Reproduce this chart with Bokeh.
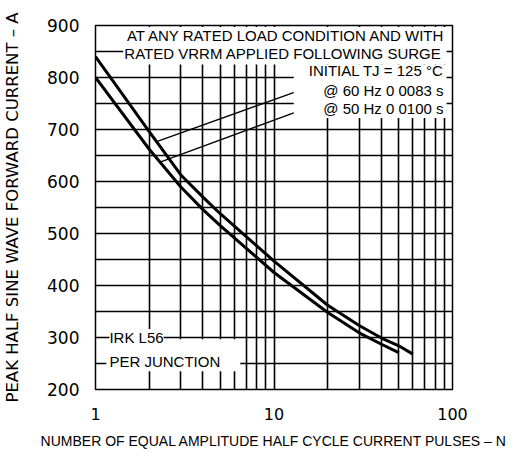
import numpy as np
from bokeh.plotting import figure
from bokeh.models import (FixedTicker, PrintfTickFormatter, BoxAnnotation,
                          Label, Range1d)
from bokeh.embed import file_html
from bokeh.resources import INLINE

# Surge current curves (peak half-sine forward current vs. number of pulses)
pulses_60hz = [1, 2, 3, 4, 5, 10, 20, 30, 40, 50, 60]
current_60hz = [840, 696, 613, 570, 538, 447, 362, 323, 299, 284, 268]

pulses_50hz = [1, 2, 3, 4, 5, 10, 20, 30, 40, 50]
current_50hz = [800, 662, 590, 546, 515, 425, 348, 309, 287, 271]

# Axis ticks and grid
x_major = [1, 10, 100]
x_minor = [2, 3, 4, 5, 6, 7, 8, 9, 20, 30, 40, 50, 60, 70, 80, 90]
y_major = [200, 300, 400, 500, 600, 700, 800, 900]
y_minor = [250, 350, 450, 550, 650, 750, 850]

TEXT_FONT = "Liberation Sans"
NUM_FONT = "DejaVu Sans"

p = figure(width=518, height=460, x_axis_type="log",
           x_range=Range1d(1, 100), y_range=Range1d(200, 900),
           output_backend="svg", toolbar_location=None,
           min_border_left=92, min_border_right=66,
           min_border_top=25, min_border_bottom=71)
p.background_fill_color = "white"
p.border_fill_color = "white"
p.outline_line_color = "black"
p.outline_line_width = 1.5

p.xaxis.ticker = FixedTicker(ticks=x_major, minor_ticks=x_minor)
p.yaxis.ticker = FixedTicker(ticks=y_major, minor_ticks=y_minor)
p.xaxis.formatter = PrintfTickFormatter(format="%d")

for ax in (p.xaxis, p.yaxis):
    ax.axis_line_color = None
    ax.major_tick_line_color = None
    ax.minor_tick_line_color = None
    ax.major_label_text_font = NUM_FONT
    ax.major_label_text_color = "black"
    ax.axis_label_text_color = "black"
    ax.axis_label_text_font_style = "normal"

p.yaxis.major_label_text_font_size = "17px"
p.xaxis.major_label_text_font_size = "16px"
p.yaxis.major_label_standoff = 10
p.xaxis.major_label_standoff = 12

p.yaxis.axis_label = "PEAK HALF SINE WAVE FORWARD CURRENT \u2013 A"
p.yaxis.axis_label_text_font = NUM_FONT
p.yaxis.axis_label_text_font_size = "16.5px"
p.yaxis.axis_label_standoff = 22

p.xaxis.axis_label = "NUMBER OF EQUAL AMPLITUDE HALF CYCLE CURRENT PULSES \u2013 N"
p.xaxis.axis_label_text_font = TEXT_FONT
p.xaxis.axis_label_text_font_size = "14px"
p.xaxis.axis_label_standoff = 10

for g in (p.xgrid, p.ygrid):
    g.grid_line_color = "black"
    g.grid_line_width = 1.6
    g.minor_grid_line_color = "black"
    g.minor_grid_line_width = 1.6

# Curves
p.line(pulses_60hz, current_60hz, line_color="black", line_width=3,
       line_join="round")
p.line(pulses_50hz, current_50hz, line_color="black", line_width=3,
       line_join="round")

# Leader lines from the frequency notes to their curves
def curve_at(n, xs, ys):
    return float(np.interp(np.log10(n), np.log10(xs), ys))

n60, n50 = 2.2, 2.3
p.segment(x0=[13.6, 13.6], y0=[774, 735],
          x1=[n60, n50],
          y1=[curve_at(n60, pulses_60hz, current_60hz),
              curve_at(n50, pulses_50hz, current_50hz)],
          line_color="black", line_width=1.3)

# White panels behind the notes (they hide the grid)
def panel(left, right, bottom, top):
    p.add_layout(BoxAnnotation(left=left, right=right, bottom=bottom, top=top,
                               fill_color="white", fill_alpha=1.0,
                               line_alpha=0, level="annotation"))

panel(1.43, 92.7, 825, 897)
panel(12.9, 92.7, 722, 825)
panel(1.15, 6.47, 235, 296.5)

def note(x, y, text, align="right", bg=None):
    p.add_layout(Label(x=x, y=y, text=text, text_align=align,
                       text_baseline="middle", text_font=TEXT_FONT,
                       text_font_size="15px", text_color="black",
                       background_fill_color=bg, level="annotation"))

note(91.4, 881, "AT ANY RATED LOAD CONDITION AND WITH")
note(86.9, 846, "RATED VRRM APPLIED FOLLOWING SURGE")
note(89.1, 814, "INITIAL TJ = 125 \u00b0C")
note(89.1, 775, "@ 60 Hz 0 0083 s")
note(89.1, 741, "@ 50 Hz 0 0100 s")
note(1.196, 300, "IRK L56", align="left", bg="white")
note(1.196, 253, "PER JUNCTION", align="left")

open("out.html", "w").write(file_html(p, INLINE))
